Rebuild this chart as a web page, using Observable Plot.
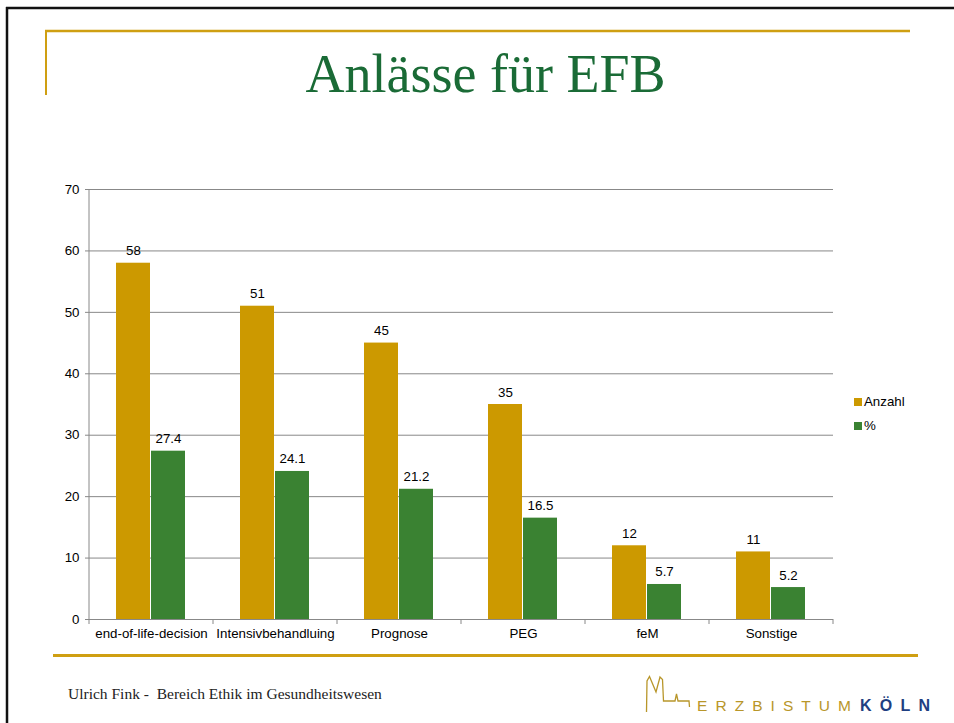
<!DOCTYPE html>
<html><head><meta charset="utf-8">
<script src="https://cdn.jsdelivr.net/npm/d3@7"></script>
<script src="https://cdn.jsdelivr.net/npm/@observablehq/plot@0.6"></script>
<style>
html,body{margin:0;padding:0;background:#fff;}
#page{position:relative;width:954px;height:723px;overflow:hidden;background:#fff;}
#chart{position:absolute;left:0;top:170px;}
#deco{position:absolute;left:0;top:0;}
</style></head><body>
<div id="page">
<div id="chart"></div>
<svg id="deco" width="954" height="723" xmlns="http://www.w3.org/2000/svg">
  <line x1="6" y1="8" x2="954" y2="8" stroke="#111" stroke-width="2.5"/>
  <line x1="7" y1="7" x2="7" y2="723" stroke="#111" stroke-width="2.5"/>
  <line x1="45" y1="31" x2="910" y2="31" stroke="#cf9f12" stroke-width="2.5"/>
  <line x1="46" y1="30" x2="46" y2="95" stroke="#cf9f12" stroke-width="2"/>
  <line x1="53" y1="655.5" x2="918" y2="655.5" stroke="#cf9f12" stroke-width="3"/>
  <text x="485.5" y="92" text-anchor="middle" font-family="Liberation Serif" font-size="54" fill="#1a6b36">Anlässe für EFB</text>
  <text x="68" y="699" font-family="Liberation Serif" font-size="15.5" fill="#222" style="white-space:pre" xml:space="preserve">Ulrich Fink -  Bereich Ethik im Gesundheitswesen</text>
  <path d="M646.5 712 L647 681 L649.5 676.5 L656 692 L660 677 L662.5 679.5 L663.5 701 L675 701 L676.5 694 L678 701 L689 701 L689.5 707" fill="none" stroke="#b8962a" stroke-width="1.3"/>
  <text x="697" y="711" font-family="Liberation Sans" font-size="15.5" fill="#b8962a" textLength="154" lengthAdjust="spacing">ERZBISTUM</text>
  <text x="860" y="711" font-family="Liberation Sans" font-size="16" font-weight="bold" fill="#1f3f82" textLength="70" lengthAdjust="spacing">KÖLN</text>
  <g id="legend" font-family="Liberation Sans" font-size="13.3" fill="#000"></g>
</svg>
</div>
<script>
const categories = ["end-of-life-decision", "Intensivbehandluing", "Prognose", "PEG", "feM", "Sonstige"];
const seriesNames = ["Anzahl", "%"];
const anzahl = [58, 51, 45, 35, 12, 11];
const prozent = [27.4, 24.1, 21.2, 16.5, 5.7, 5.2];
const yTicks = [0, 10, 20, 30, 40, 50, 60, 70];
const colors = ["#CC9900", "#3A8232"];

const data = [];
categories.forEach((c, i) => {
  data.push({cat: c, series: seriesNames[0], value: anzahl[i]});
  data.push({cat: c, series: seriesNames[1], value: prozent[i]});
});

const plot = Plot.plot({
  width: 860,
  height: 480,
  marginLeft: 88,
  marginRight: 27,
  marginTop: 19,
  marginBottom: 31,
  style: {fontFamily: "Liberation Sans", fontSize: "13.3px", color: "#000", background: "transparent"},
  facet: {data: data, x: "cat"},
  fx: {domain: categories, padding: 0, label: null, tickSize: 0, tickPadding: 9, axis: "bottom"},
  x: {domain: seriesNames, paddingInner: 0.02, paddingOuter: 0.75, axis: null},
  y: {domain: [0, 70], ticks: yTicks, tickSize: 4, tickPadding: 6, label: null},
  color: {domain: seriesNames, range: colors},
  marks: [
    Plot.ruleY(yTicks, {stroke: "#888", strokeWidth: 1}),
    Plot.barY(data, {x: "series", y: "value", fill: "series"}),
    Plot.text(data, {x: "series", y: "value", text: d => String(d.value), dy: -8, lineAnchor: "bottom", fill: "#000", fontSize: 13.3})
  ]
});
document.getElementById("chart").appendChild(plot);

// style y-axis ticks gray; add axis line and category boundary ticks
const svg = d3.select(plot.tagName.toLowerCase() === "svg" ? plot : plot.querySelector("svg"));
svg.selectAll('[aria-label^="y-axis"] line, [aria-label^="y-axis"] path').attr("stroke", "#888");
const fxs = plot.scale("fx");
const ys = plot.scale("y");
const y0 = ys.apply(0), yTop = ys.apply(70);
const bw = fxs.bandwidth;
const bounds = categories.map(c => fxs.apply(c)).concat([fxs.apply(categories[categories.length - 1]) + bw]);
const g = svg.append("g").attr("stroke", "#888").attr("stroke-width", 1);
g.append("line").attr("x1", bounds[0]).attr("x2", bounds[0]).attr("y1", yTop).attr("y2", y0);
bounds.forEach(b => g.append("line").attr("x1", b).attr("x2", b).attr("y1", y0).attr("y2", y0 + 5));

// legend (SVG text, outside the plot)
const leg = d3.select("#legend");
seriesNames.forEach((s, i) => {
  const yy = 398 + i * 24;
  leg.append("rect").attr("x", 854).attr("y", yy).attr("width", 8).attr("height", 8).attr("fill", colors[i]);
  leg.append("text").attr("x", 864).attr("y", yy + 8).text(s);
});
</script>
</body></html>
